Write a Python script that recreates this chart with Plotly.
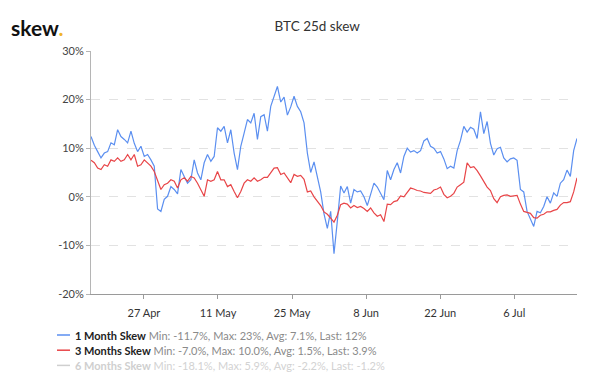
import pandas as pd
import plotly.graph_objects as go

# ---- data ----
start_time = "2020-04-17 00:00"
sample_step = "906min"

skew_1m = [
    12.4, 10.6, 9.3, 8.0, 9.0, 9.3, 11.1, 10.7, 13.8, 12.4,
    11.8, 11.1, 13.5, 11.0, 9.3, 10.4, 8.3, 8.7, 7.6, 6.3,
    -2.5, -3.0, -0.5, 0.1, 2.1, 1.5, 0.6, 5.6, 4.2, 2.8,
    3.5, 7.6, 4.9, 3.5, 7.0, 8.7, 7.3, 8.3, 14.2, 13.5,
    14.5, 11.1, 13.8, 9.0, 5.6, 10.4, 13.1, 15.9, 15.2, 17.2,
    11.8, 16.5, 16.9, 13.5, 18.6, 20.5, 22.7, 19.5, 20.5, 16.8,
    18.5, 20.7, 18.6, 17.5, 15.2, 9.0, 5.0, 7.2, 4.0, 1.0,
    -3.5, -6.5, -3.0, -11.7, -5.0, 2.2, 0.8, 2.1, -1.3, 1.5,
    1.0, 1.2, 0.0, -1.8, 0.5, 2.8, 2.0, 0.8, -0.6, 5.4,
    3.5, 5.6, 7.0, 4.9, 8.3, 10.0, 9.2, 9.5, 9.0, 9.5,
    11.5, 12.0, 10.4, 10.0, 9.0, 9.3, 7.8, 5.8, 6.3, 5.9,
    9.5, 11.6, 14.5, 13.3, 14.3, 13.9, 12.0, 17.5, 13.0, 15.5,
    11.0, 8.6, 9.9, 10.2, 8.0, 7.2, 7.8, 8.0, 7.5, 1.5,
    1.0, -3.0, -4.7, -6.1, -3.0, -3.3, -2.0, 0.0, -1.3, 0.8,
    0.1, 2.8, 3.5, 5.5, 4.2, 9.5, 12.0,
]

skew_3m = [
    7.5, 7.0, 5.9, 5.6, 6.6, 6.3, 7.6, 7.3, 8.0, 7.3,
    7.6, 8.7, 7.6, 8.7, 6.3, 6.6, 7.6, 7.0, 6.3, 5.2,
    3.5, 1.5, 2.5, 2.8, 3.5, 3.2, 1.8, 3.5, 3.9, 3.2,
    4.2, 3.9, 2.8, 1.5, 0.1, 3.5, 3.2, 3.5, 5.2, 3.5,
    3.5, 2.1, 2.5, 1.1, -0.2, 1.1, 2.8, 3.5, 3.2, 3.9,
    3.2, 3.5, 4.0, 4.0, 4.9, 5.9, 6.0, 4.6, 4.9, 4.0,
    2.9, 4.6, 4.2, 4.4, 3.6, 1.0, 1.2, 0.0, -0.8, -1.8,
    -3.1, -3.6, -4.4, -5.2, -3.8, -1.6, -1.3, -1.5, -2.3, -1.8,
    -2.2, -2.0, -2.4, -3.0, -2.3, -3.3, -4.0, -3.7, -5.1, -1.5,
    -1.6, -1.0, -0.8, 0.2, 0.0, 0.8, 1.8, 1.6, 1.3, 1.2,
    0.9, 0.8, 0.7, 1.4, 1.6, 2.0, 0.5, -0.2, 0.1, 0.7,
    2.0, 2.5, 3.0, 7.0, 6.0, 6.2, 5.4, 4.3, 3.0, 2.0,
    1.3, -0.4, -1.2, 0.0, 0.3, 0.4, 0.1, 0.2, 0.3, -1.5,
    -3.0, -3.2, -3.4, -4.3, -4.4, -3.8, -3.6, -3.1, -3.1, -2.8,
    -2.6, -1.7, -1.2, -1.2, -1.0, 1.0, 3.9,
]

series_names = ["1 Month Skew", "3 Months Skew", "6 Months Skew"]
series_stats = [
    "Min: -11.7%, Max: 23%, Avg: 7.1%, Last: 12%",
    "Min: -7.0%, Max: 10.0%, Avg: 1.5%, Last: 3.9%",
    "Min: -18.1%, Max: 5.9%, Avg: -2.2%, Last: -1.2%",
]

x_tick_dates = ["2020-04-27", "2020-05-11", "2020-05-25",
                "2020-06-08", "2020-06-22", "2020-07-06"]
x_tick_labels = ["27 Apr", "11 May", "25 May", "8 Jun", "22 Jun", "6 Jul"]
y_tick_values = [-20, -10, 0, 10, 20, 30]
y_tick_labels = ["-20%", "-10%", "0%", "10%", "20%", "30%"]

times = pd.date_range(start_time, periods=len(skew_1m), freq=sample_step)

FONT = "Lato, 'Open Sans', sans-serif"
BLUE = "#5b8ff0"
RED = "#e84548"
GREY = "#cfcfcf"

series_colors = [BLUE, RED, GREY]
name_colors = ["#222222", "#222222", "#cfcfcf"]
stats_colors = ["#8a8a8a", "#8a8a8a", "#d2d2d2"]

fig = go.Figure()
fig.add_trace(go.Scatter(
    x=times, y=skew_1m, mode="lines",
    line=dict(color=BLUE, width=1.2), name=series_names[0],
))
fig.add_trace(go.Scatter(
    x=times, y=skew_3m, mode="lines",
    line=dict(color=RED, width=1.2), name=series_names[1],
))

# custom legend (symbol + rich text), placed below the plot in paper coords
plot_left, plot_w = 91, 486
plot_bottom, plot_h = 294, 243
legend_rows_px = [335, 350.2, 365.4]


def px_to_paper_x(px):
    return (px - plot_left) / plot_w


def px_to_paper_y(py):
    return (plot_bottom - py) / plot_h


shapes = []
annotations = []
for i, row_y in enumerate(legend_rows_px):
    yp = px_to_paper_y(row_y)
    shapes.append(dict(
        type="line", xref="paper", yref="paper",
        x0=px_to_paper_x(57), x1=px_to_paper_x(70), y0=yp, y1=yp,
        line=dict(color=series_colors[i], width=1.5),
    ))
    annotations.append(dict(
        text=(f"<span style='color:{name_colors[i]}'><b>{series_names[i]}</b></span> "
              f"<span style='color:{stats_colors[i]}'>{series_stats[i]}</span>"),
        xref="paper", yref="paper", x=px_to_paper_x(73), y=yp,
        xanchor="left", yanchor="middle", showarrow=False,
        font=dict(family=FONT, size=11, color="#222"),
    ))

annotations.append(dict(
    text="<b>skew</b><span style='color:#f0b429'><b>.</b></span>",
    xref="paper", yref="paper", x=px_to_paper_x(9), y=px_to_paper_y(27),
    xanchor="left", yanchor="middle", showarrow=False,
    font=dict(family=FONT, size=21, color="#111"),
))

fig.update_layout(
    width=610, height=374,
    margin=dict(l=91, r=33, t=51, b=80, autoexpand=False),
    paper_bgcolor="white", plot_bgcolor="white",
    font=dict(family=FONT, size=11, color="#444"),
    title=dict(text="BTC 25d skew", x=0.52, xanchor="center",
               y=1 - 26.5 / 374, yanchor="middle", yref="container",
               font=dict(family=FONT, size=13.5, color="#333")),
    showlegend=False,
    shapes=shapes,
    annotations=annotations,
)

fig.update_xaxes(
    type="date",
    range=[times[0], times[-1]],
    tickvals=pd.to_datetime(x_tick_dates), ticktext=x_tick_labels,
    showgrid=False, zeroline=False,
    showline=True, linecolor="#9a9a9a", linewidth=1,
    ticks="outside", ticklen=4, tickcolor="#9a9a9a",
    ticklabelstandoff=5,
    tickfont=dict(family=FONT, size=11, color="#333"),
)
fig.update_yaxes(
    range=[-20, 30],
    tickvals=y_tick_values, ticktext=y_tick_labels,
    showgrid=True, gridcolor="#e2e2e2", griddash="dash", gridwidth=1,
    zeroline=False,
    showline=True, linecolor="#b5b5b5", linewidth=1,
    ticks="outside", ticklen=4, tickcolor="#b5b5b5",
    tickfont=dict(family=FONT, size=11, color="#444"),
)

fig.write_html(
    "out.html",
    config={"displayModeBar": False},
    post_script="document.body.style.margin='0';document.body.style.padding='0';",
)
